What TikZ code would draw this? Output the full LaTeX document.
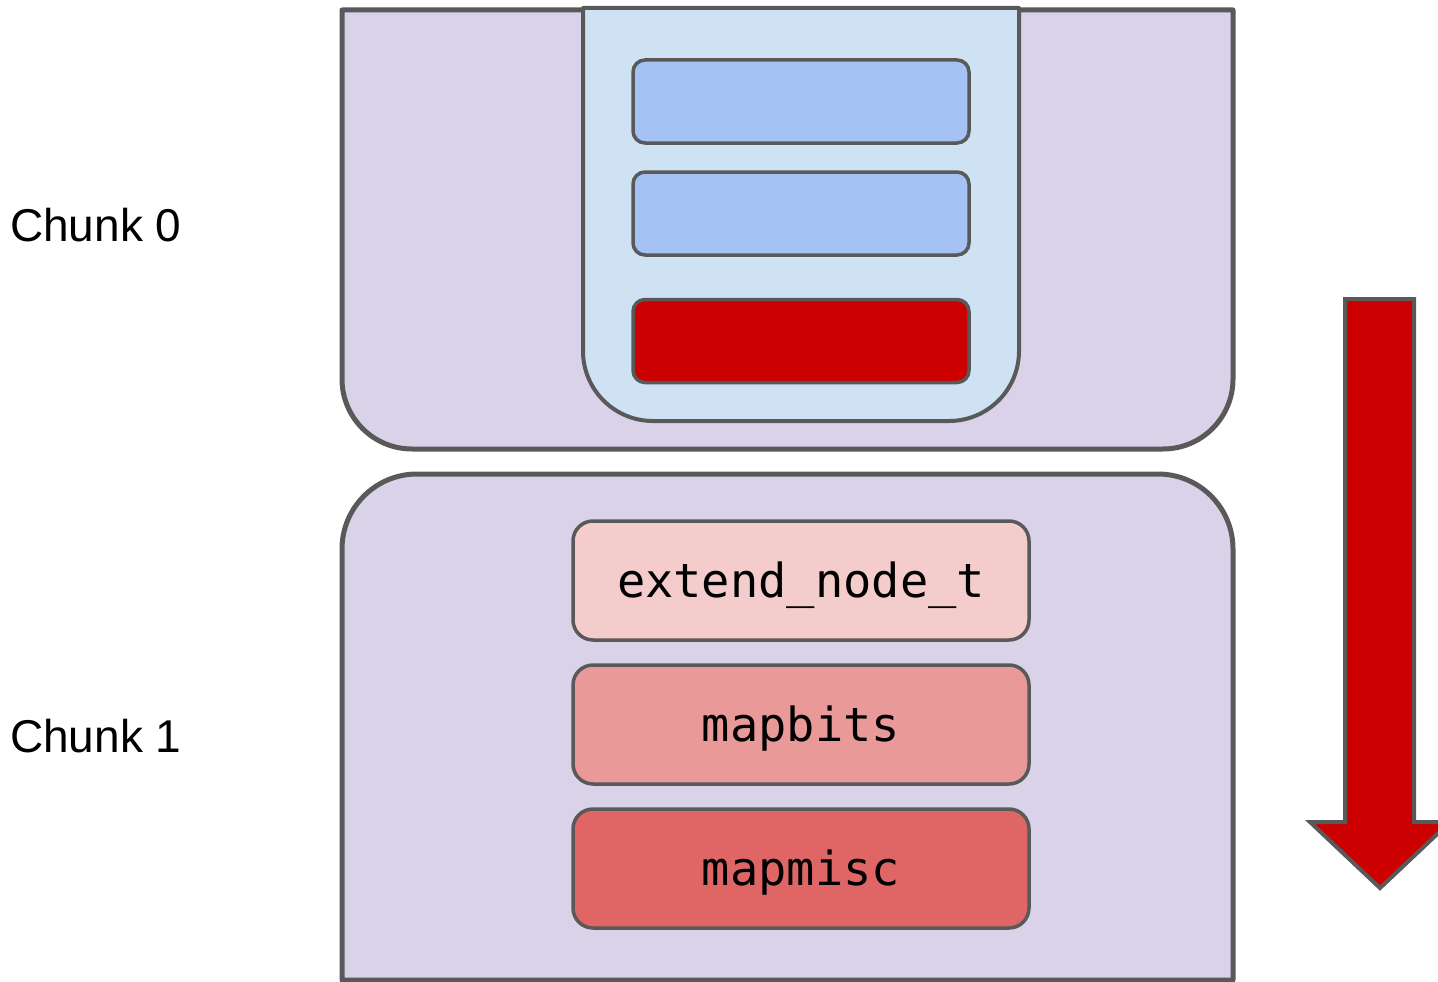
\documentclass[tikz,border=0pt]{standalone}
\usepackage{fontspec}
\setmainfont{Liberation Sans}
\setmonofont{DejaVu Sans Mono}
\definecolor{edge}{HTML}{595959}
\definecolor{chunkfill}{HTML}{D9D2E9}
\definecolor{slotfill}{HTML}{CFE2F3}
\definecolor{barblue}{HTML}{A4C2F4}
\definecolor{barred}{HTML}{CC0000}
\definecolor{pinkA}{HTML}{F4CCCC}
\definecolor{pinkB}{HTML}{EA9999}
\definecolor{pinkC}{HTML}{E06666}
\tikzset{
  chunkshape/.style={draw=edge, fill=chunkfill, line width=5pt, line join=round},
  slotshape/.style={draw=edge, fill=slotfill, line width=4pt, line join=round},
  bar/.style={draw=edge, line width=3.5pt, rounded corners=12pt, inner sep=0pt,
    minimum width=336pt, minimum height=83pt},
  field/.style={draw=edge, line width=3.5pt, rounded corners=20pt, inner sep=0pt,
    minimum width=456pt, minimum height=119pt, text height=34pt, text depth=0pt,
    font=\ttfamily\fontsize{47}{56}\selectfont},
  chunklabel/.style={anchor=base west, inner sep=0pt, font=\fontsize{46}{55}\selectfont},
  bigarrow/.style={draw=edge, fill=barred, line width=4pt, line join=miter}
}
\begin{document}
\begin{tikzpicture}[x=1pt,y=-1pt]
\useasboundingbox (0,0) rectangle (1438,982);
% chunk 0 outline, rounded at the bottom
\path[chunkshape] (342,10) -- (1233,10) -- (1233,379)
  arc[start angle=0, end angle=90, radius=70] -- (412,449)
  arc[start angle=90, end angle=180, radius=70] -- cycle;
% inner slot holding the three bars
\path[slotshape] (583,8) -- (1019,8) -- (1019,351)
  arc[start angle=0, end angle=90, radius=70] -- (653,421)
  arc[start angle=90, end angle=180, radius=70] -- cycle;
\node[bar, fill=barblue] (b1) at (801,101.5) {};
\node[bar, fill=barblue] (b2) at (801,213.5) {};
\node[bar, fill=barred]  (b3) at (801,341) {};
% chunk 1 outline, rounded at the top
\path[chunkshape] (342,980) -- (342,549)
  arc[start angle=180, end angle=270, radius=75] -- (1158,474)
  arc[start angle=270, end angle=360, radius=75] -- (1233,980) -- cycle;
\node[field, fill=pinkA] (f1) at (801,580.5) {extend\_node\_t};
\node[field, fill=pinkB] (f2) at (801,724.5) {mapbits};
\node[field, fill=pinkC] (f3) at (801,868.5) {mapmisc};
% labels
\node[chunklabel] (l0) at (10,241) {Chunk 0};
\node[chunklabel] (l1) at (10,752) {Chunk 1};
% downward arrow
\path[bigarrow] (1345,299) -- (1414,299) -- (1414,822) -- (1450,822)
  -- (1380,888) -- (1310,822) -- (1345,822) -- cycle;
\end{tikzpicture}
\end{document}
